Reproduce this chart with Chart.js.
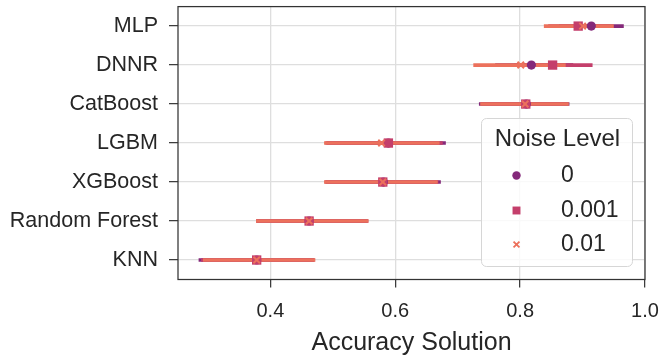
<!DOCTYPE html>
<html>
<head>
<meta charset="utf-8">
<script src="https://cdn.jsdelivr.net/npm/chart.js@4.4.1/dist/chart.umd.min.js"></script>
<style>
html,body{margin:0;padding:0;background:#fff;}
#wrap{width:661px;height:355px;position:relative;}
</style>
</head>
<body>
<div id="wrap"><canvas id="c" width="661" height="355"></canvas></div>
<script>
const categories = ['MLP', 'DNNR', 'CatBoost', 'LGBM', 'XGBoost', 'Random Forest', 'KNN'];
const noiseLevels = ['0', '0.001', '0.01'];

// noise level 0
const mean0 = [0.914, 0.818, 0.810, 0.589, 0.581, 0.462, 0.378];
const lo0   = [0.862, 0.760, 0.734, 0.490, 0.489, 0.378, 0.285];
const hi0   = [0.966, 0.885, 0.879, 0.681, 0.673, 0.556, 0.470];
// noise level 0.001
const mean1 = [0.893, 0.852, 0.809, 0.589, 0.580, 0.462, 0.378];
const lo1   = [0.845, 0.790, 0.737, 0.488, 0.487, 0.377, 0.289];
const hi1   = [0.945, 0.916, 0.877, 0.676, 0.669, 0.557, 0.471];
// noise level 0.01
const mean2 = [0.900, 0.801, 0.808, 0.578, 0.580, 0.462, 0.378];
const lo2   = [0.838, 0.725, 0.736, 0.486, 0.486, 0.377, 0.292];
const hi2   = [0.950, 0.873, 0.878, 0.671, 0.668, 0.557, 0.472];

const xTicks = [0.4, 0.6, 0.8, 1.0];

const colors = ['#84297a', '#c43f6b', '#ec715c'];
const styles = ['circle', 'rect', 'crossRot'];
const radii = [4.6, 6.6, 4.6];

function errData(lo, hi) {
  const d = [];
  lo.forEach((v, i) => {
    d.push({x: v, y: categories[i]});
    d.push({x: hi[i], y: categories[i]});
    d.push({x: null, y: categories[i]});
  });
  return d;
}
function ptData(m) { return m.map((v, i) => ({x: v, y: categories[i]})); }

const means = [mean0, mean1, mean2];
const los = [lo0, lo1, lo2];
const his = [hi0, hi1, hi2];

const datasets = [];
for (let s = 0; s < 3; s++) {
  datasets.push({
    type: 'line', label: 'err' + noiseLevels[s], data: errData(los[s], his[s]),
    borderColor: colors[s], borderWidth: 3.6, pointRadius: 0, showLine: true,
    spanGaps: false, fill: false, order: 10 - s, borderCapStyle: 'butt'
  });
}
for (let s = 0; s < 3; s++) {
  datasets.push({
    type: 'scatter', label: noiseLevels[s], data: ptData(means[s]),
    pointStyle: styles[s], pointRadius: radii[s],
    backgroundColor: colors[s], borderColor: colors[s],
    borderWidth: s === 2 ? 2 : 0, order: 3 - s
  });
}

const FONT = "'Liberation Sans', Arial, sans-serif";
const TXT = '#262626';

const framePlugin = {
  id: 'frame',
  beforeDatasetsDraw(chart) {
    const {ctx, chartArea: a} = chart;
    ctx.save();
    ctx.strokeStyle = '#333333';
    ctx.lineWidth = 1.25;
    ctx.strokeRect(a.left, a.top, a.right - a.left, a.bottom - a.top);
    ctx.restore();
  }
};

const legendPlugin = {
  id: 'boxLegend',
  afterDraw(chart) {
    const {ctx} = chart;
    const bx = 481.5, by = 118.5, bw = 151, bh = 148;
    ctx.save();
    ctx.beginPath();
    ctx.roundRect(bx, by, bw, bh, 5);
    ctx.fillStyle = 'rgba(255,255,255,0.82)';
    ctx.fill();
    ctx.strokeStyle = '#d6d6d6';
    ctx.lineWidth = 1;
    ctx.stroke();
    ctx.fillStyle = TXT;
    ctx.font = "24px " + FONT;
    ctx.textBaseline = 'middle';
    ctx.textAlign = 'center';
    ctx.fillText('Noise Level', 557.5, 139);
    ctx.font = "23px " + FONT;
    ctx.textAlign = 'left';
    const ys = [175.5, 210.5, 244.5];
    for (let s = 0; s < 3; s++) {
      ctx.fillStyle = colors[s];
      ctx.strokeStyle = colors[s];
      ctx.lineWidth = s === 2 ? 1.8 : 0;
      Chart.helpers.drawPoint(ctx, {pointStyle: styles[s], radius: s === 1 ? 5.6 : 4.2, borderWidth: s === 2 ? 1.8 : 0}, 516.5, ys[s]);
      ctx.fillStyle = TXT;
      ctx.fillText(noiseLevels[s], 561, ys[s]);
    }
    ctx.restore();
  }
};

new Chart(document.getElementById('c'), {
  type: 'scatter',
  data: {datasets},
  options: {
    responsive: false,
    animation: false,
    devicePixelRatio: 1,
    layout: {padding: {top: 6, right: 16, bottom: 0, left: 0}},
    plugins: {legend: {display: false}, tooltip: {enabled: false}},
    scales: {
      x: {
        type: 'linear', min: 0.252, max: 1.0,
        afterBuildTicks(scale) { scale.ticks = xTicks.map(v => ({value: v})); },
        afterFit(scale) { scale.height = 75.5; scale.paddingLeft = 0; scale.paddingRight = 0; },
        ticks: {
          callback: v => Number(v).toFixed(1),
          font: {family: FONT, size: 20}, color: TXT, padding: 12
        },
        grid: {color: '#dedede', lineWidth: 1.3, tickColor: '#333333', tickLength: 8, tickWidth: 1.2},
        border: {display: false},
        title: {display: true, text: 'Accuracy Solution', font: {family: FONT, size: 25}, color: TXT, padding: {top: 0, bottom: -3}}
      },
      y: {
        type: 'category', labels: categories, offset: true,
        afterFit(scale) { scale.width = 178; scale.paddingTop = 0; scale.paddingBottom = 0; },
        ticks: {font: {family: FONT, size: 21.5}, color: TXT, padding: 11},
        grid: {color: '#dedede', lineWidth: 1.3, tickColor: '#333333', tickLength: 9, tickWidth: 1.2, offset: false},
        border: {display: false}
      }
    }
  },
  plugins: [framePlugin, legendPlugin]
});
</script>
</body>
</html>
